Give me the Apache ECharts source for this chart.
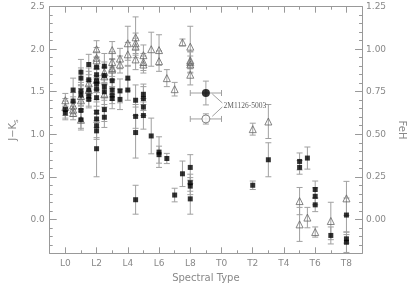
<!DOCTYPE html>
<html><head><meta charset="utf-8">
<script src="https://cdn.jsdelivr.net/npm/echarts@6/dist/echarts.min.js"></script>
<style>html,body{margin:0;padding:0;background:#fff}#c{width:415px;height:298px}</style>
</head><body><div id="c"></div>
<script>
// Spectral type: L0=0 ... L9=9, T0=10 ... T8=18
const xTickValues = [0,2,4,6,8,10,12,14,16,18];
const xTickLabels = ['L0','L2','L4','L6','L8','T0','T2','T4','T6','T8'];
const leftTickValues = [0,0.5,1,1.5,2,2.5];
const rightTickValues = [0,0.25,0.5,0.75,1,1.25];

// J-Ks (filled squares, left axis)
const sqType = [0,0, 0.5,0.5, 1,1,1,1,1,1, 1.5,1.5,1.5,1.5,1.5, 2,2,2,2,2,2,2,2,2,2,2, 2.5,2.5,2.5,2.5,2.5,2.5, 3,3,3,3, 3.5,3.5, 4,4, 4.5,4.5,4.5,4.5, 5,5,5,5, 5.5, 6,6, 6.5, 7, 7.5, 8,8,8,8, 12, 13, 15,15, 15.5, 16,16,16, 17, 18,18,18];
const sqJK = [1.25,1.29, 1.52,1.39, 1.73,1.66,1.51,1.46,1.28,1.17, 1.82,1.64,1.52,1.45,1.41, 1.79,1.70,1.63,1.59,1.53,1.43,1.26,1.18,1.10,1.04,0.83, 1.80,1.69,1.56,1.50,1.29,1.20, 1.63,1.52,1.46,1.42, 1.51,1.41, 1.66,1.52, 1.40,1.21,1.02,0.23, 1.47,1.42,1.32,1.22, 0.98, 0.79,0.76, 0.715, 0.285, 0.535, 0.61,0.43,0.39,0.24, 0.40, 0.70, 0.68,0.61, 0.72, 0.35,0.27,0.17, -0.19, 0.05,-0.23,-0.27];
const sqErr = [0.08,0.10, 0.14,0.10, 0.15,0.12,0.10,0.12,0.10,0.12, 0.12,0.14,0.10,0.12,0.10, 0.12,0.10,0.14,0.10,0.12,0.10,0.12,0.10,0.14,0.10,0.33, 0.15,0.10,0.12,0.10,0.14,0.12, 0.16,0.12,0.10,0.12, 0.14,0.12, 0.15,0.12, 0.18,0.14,0.30,0.17, 0.12,0.14,0.10,0.16, 0.21, 0.18,0.10, 0.06, 0.08, 0.15, 0.15,0.10,0.10,0.18, 0.05, 0.20, 0.10,0.08, 0.13, 0.10,0.10,0.08, 0.10, 0.20,0.05,0.12];

// FeH index (open triangles, right axis)
const triType = [0,0, 0.5,0.5,0.5, 1,1,1, 1.5,1.5, 2,2,2,2, 2.5,2.5,2.5, 3,3,3,3, 3.5,3.5, 4,4, 4.5,4.5,4.5,4.5, 5,5,5, 5.5, 6,6, 6.5, 7, 7.5, 8,8,8,8,8, 12, 13, 15,15, 15.5, 16, 17, 18];
const triFeH = [0.70,0.66, 0.67,0.645,0.625, 0.725,0.70,0.585, 0.80,0.76, 1.00,0.95,0.935,0.82, 0.865,0.84,0.735, 0.995,0.925,0.89,0.88, 0.945,0.91, 1.035,0.97, 1.07,1.035,1.015,0.94, 0.965,0.925,0.91, 1.00, 0.995,0.93, 0.83, 0.765, 1.04, 1.015,0.935,0.925,0.91,0.85, 0.53, 0.575, 0.107,-0.03, 0.01, -0.075, -0.01, 0.123];
const triErr = [0.04,0.05, 0.05,0.04,0.04, 0.06,0.05,0.05, 0.07,0.06, 0.05,0.06,0.05,0.06, 0.06,0.05,0.06, 0.05,0.06,0.05,0.06, 0.06,0.05, 0.10,0.07, 0.12,0.06,0.05,0.06, 0.06,0.05,0.05, 0.10, 0.09,0.06, 0.05, 0.04, 0.02, 0.12,0.05,0.06,0.05,0.06, 0.035, 0.10, 0.08,0.10, 0.06, 0.03, 0.11, 0.10];

// 2MASS 1126-5003
const objName = '2M1126-5003';
const objType = [9];
const objTypeErr = [1];
const objJK = [1.485];
const objJKErr = [0.14];
const objFeH = [0.59];
const objFeHErr = [0.03];
// annotation anchor (data coords, left axis) and connector lines
const labelAnchor = [10.1, 1.33];
const connJK = [[9.41,1.474],[10.05,1.368]];
const connFeH = [[9.41,1.211],[10.05,1.321]];

const AX = '#999', TX = '#888', EB = '#a0a0a0';
const FONT = 'DejaVu Sans';

function errSeries(types, vals, errs, yIdx, xErrs) {
  return {
    type: 'custom', xAxisIndex: 0, yAxisIndex: yIdx, z: 1, silent: true,
    data: types.map((t, i) => [t, vals[i] - errs[i], vals[i] + errs[i], vals[i], xErrs ? xErrs[i] : 0]),
    renderItem: function (params, api) {
      const x = api.value(0), v = api.value(3), xe = api.value(4);
      const lo = api.coord([x, api.value(1)]);
      const hi = api.coord([x, api.value(2)]);
      const w = 3;
      const st = { stroke: EB, lineWidth: 1, fill: null };
      const ch = [
        { type: 'line', shape: { x1: lo[0], y1: lo[1], x2: hi[0], y2: hi[1] }, style: st },
        { type: 'line', shape: { x1: lo[0] - w, y1: lo[1], x2: lo[0] + w, y2: lo[1] }, style: st },
        { type: 'line', shape: { x1: hi[0] - w, y1: hi[1], x2: hi[0] + w, y2: hi[1] }, style: st }
      ];
      if (xe) {
        const l = api.coord([x - xe, v]), r = api.coord([x + xe, v]);
        ch.push({ type: 'line', shape: { x1: l[0], y1: l[1], x2: r[0], y2: r[1] }, style: st });
        ch.push({ type: 'line', shape: { x1: l[0], y1: l[1] - w, x2: l[0], y2: l[1] + w }, style: st });
        ch.push({ type: 'line', shape: { x1: r[0], y1: r[1] - w, x2: r[0], y2: r[1] + w }, style: st });
      }
      return { type: 'group', children: ch };
    }
  };
}

function lineOn() { return { show: true, onZero: false, lineStyle: { color: AX, width: 1 } }; }
function lineOff() { return { show: false, onZero: false }; }

const option = {
  animation: false,
  backgroundColor: '#fff',
  grid: { left: 36.5, right: 45, top: 6.7, bottom: 44.7, containLabel: false },
  xAxis: [
    { type: 'value', position: 'bottom', min: -1, max: 19, interval: 1, axisLine: lineOn(), splitLine: { show: false },
      axisTick: { show: true, inside: true, length: 3, lineStyle: { color: AX } }, axisLabel: { show: false } },
    { type: 'value', position: 'bottom', min: -1, max: 19, axisLine: lineOff(), splitLine: { show: false },
      axisTick: { show: true, inside: true, length: 6, customValues: xTickValues, lineStyle: { color: AX } },
      axisLabel: { show: true, customValues: xTickValues, margin: 6, color: TX, fontFamily: FONT, fontSize: 9,
        formatter: v => xTickLabels[xTickValues.indexOf(Math.round(v))] || '' },
      name: 'Spectral Type', nameLocation: 'middle', nameGap: 18,
      nameTextStyle: { color: TX, fontFamily: FONT, fontSize: 10 } },
    { type: 'value', position: 'top', min: -1, max: 19, interval: 1, axisLine: lineOn(), splitLine: { show: false },
      axisTick: { show: true, inside: true, length: 3, lineStyle: { color: AX } }, axisLabel: { show: false } },
    { type: 'value', position: 'top', min: -1, max: 19, axisLine: lineOff(), splitLine: { show: false },
      axisTick: { show: true, inside: true, length: 6, customValues: xTickValues, lineStyle: { color: AX } },
      axisLabel: { show: false } }
  ],
  yAxis: [
    { type: 'value', position: 'left', min: -0.4, max: 2.5, interval: 0.1, axisLine: lineOn(), splitLine: { show: false },
      axisTick: { show: true, inside: true, length: 3, lineStyle: { color: AX } }, axisLabel: { show: false } },
    { type: 'value', position: 'left', min: -0.4, max: 2.5, axisLine: lineOff(), splitLine: { show: false },
      axisTick: { show: true, inside: true, length: 7, customValues: leftTickValues, lineStyle: { color: AX } },
      axisLabel: { show: true, customValues: leftTickValues, margin: 5, color: TX, fontFamily: FONT, fontSize: 9,
        formatter: v => v.toFixed(1) },
      name: '{a|J\u2212K}{b|s}', nameLocation: 'middle', nameGap: 21, nameRotate: 90,
      nameTextStyle: { color: TX, fontFamily: FONT, fontSize: 10,
        rich: { a: { color: TX, fontFamily: FONT, fontSize: 10 }, b: { color: TX, fontFamily: FONT, fontSize: 7, padding: [6, 0, 0, 0] } } } },
    { type: 'value', position: 'right', min: -0.2, max: 1.25, interval: 0.05, axisLine: lineOn(), splitLine: { show: false },
      axisTick: { show: true, inside: true, length: 3, lineStyle: { color: AX } }, axisLabel: { show: false } },
    { type: 'value', position: 'right', min: -0.2, max: 1.25, axisLine: lineOff(), splitLine: { show: false },
      axisTick: { show: true, inside: true, length: 7, customValues: rightTickValues, lineStyle: { color: AX } },
      axisLabel: { show: true, customValues: rightTickValues, margin: 4, color: TX, fontFamily: FONT, fontSize: 9,
        formatter: v => v.toFixed(2) },
      name: 'FeH', nameLocation: 'middle', nameGap: 33, nameRotate: -90,
      nameTextStyle: { color: TX, fontFamily: FONT, fontSize: 10 } }
  ],
  series: [
    errSeries(sqType, sqJK, sqErr, 0),
    errSeries(triType, triFeH, triErr, 2),
    errSeries(objType, objJK, objJKErr, 0, objTypeErr),
    errSeries(objType, objFeH, objFeHErr, 2, objTypeErr),
    { type: 'line', xAxisIndex: 0, yAxisIndex: 0, data: connJK, symbol: 'none', z: 1,
      lineStyle: { color: EB, width: 1 }, silent: true },
    { type: 'line', xAxisIndex: 0, yAxisIndex: 0, data: connFeH, symbol: 'none', z: 1,
      lineStyle: { color: EB, width: 1 }, silent: true },
    { type: 'scatter', xAxisIndex: 0, yAxisIndex: 2, z: 3,
      data: triType.map((t, i) => [t, triFeH[i]]),
      symbol: 'triangle', symbolSize: 7,
      itemStyle: { color: 'rgba(255,255,255,0)', borderColor: '#666', borderWidth: 1 } },
    { type: 'scatter', xAxisIndex: 0, yAxisIndex: 0, z: 4,
      data: sqType.map((t, i) => [t, sqJK[i]]),
      symbol: 'rect', symbolSize: 5, itemStyle: { color: '#000' } },
    { type: 'scatter', xAxisIndex: 0, yAxisIndex: 0, z: 4,
      data: objType.map((t, i) => [t, objJK[i]]),
      symbol: 'circle', symbolSize: 8, itemStyle: { color: '#000' } },
    { type: 'scatter', xAxisIndex: 0, yAxisIndex: 2, z: 4,
      data: objType.map((t, i) => [t, objFeH[i]]),
      symbol: 'circle', symbolSize: 8, itemStyle: { color: '#fff', borderColor: '#666', borderWidth: 1 } },
    { type: 'scatter', xAxisIndex: 0, yAxisIndex: 0, z: 5, silent: true,
      data: [labelAnchor], symbolSize: 1, itemStyle: { color: 'rgba(0,0,0,0)' },
      label: { show: true, position: 'right', distance: 0, formatter: objName,
        color: '#333', fontFamily: 'Liberation Serif', fontSize: 7.5 } }
  ]
};
const chart = echarts.init(document.getElementById('c'), null, { renderer: 'canvas' });
chart.setOption(option);
</script></body></html>
